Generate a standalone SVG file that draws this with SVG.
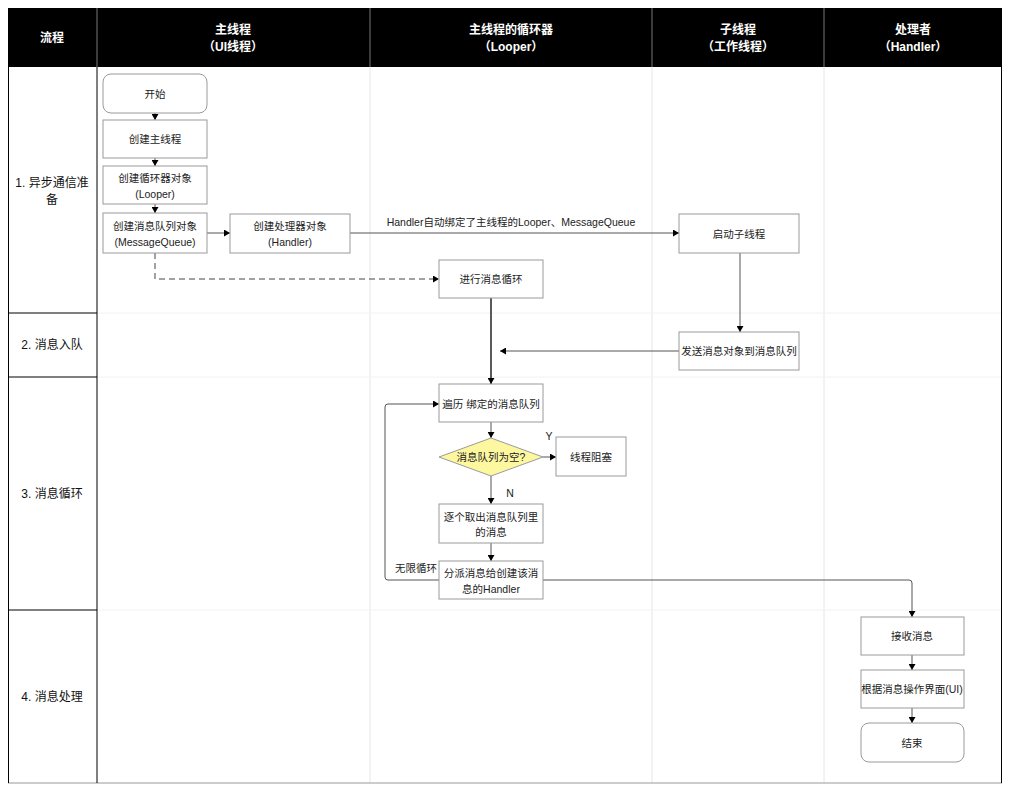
<svg xmlns="http://www.w3.org/2000/svg" width="1019" height="800" viewBox="0 0 1019 800">
<defs>
<style>
text{font-family:"Liberation Sans","Noto Sans CJK SC",sans-serif;font-size:10.5px;fill:#222;text-anchor:middle;dominant-baseline:central}
.hd{fill:#fff;font-weight:bold;font-size:12px}
.lane{font-size:12px;fill:#111}
.box{fill:#fff;stroke:#9a9a9a;stroke-width:1}
.grid{stroke:#e6e6e6;stroke-width:1}
.rowg{stroke:#f2f2f2;stroke-width:1}
.edge{fill:none;stroke:#555;stroke-width:1}
</style>
<marker id="ah" markerWidth="7" markerHeight="7" refX="6" refY="3.5" orient="auto" markerUnits="userSpaceOnUse">
<path d="M0,0 L6,3.5 L0,7 Z" fill="#000"/>
</marker>
</defs>
<rect x="0" y="0" width="1019" height="800" fill="#fff"/>
<g id="table">
<line class="grid" x1="370" y1="67" x2="370" y2="783"/>
<line class="grid" x1="652" y1="67" x2="652" y2="783"/>
<line class="grid" x1="824" y1="67" x2="824" y2="783"/>
<line class="rowg" x1="97" y1="313" x2="1002" y2="313"/>
<line class="rowg" x1="97" y1="377" x2="1002" y2="377"/>
<line class="rowg" x1="97" y1="610" x2="1002" y2="610"/>
<line x1="8" y1="783" x2="1002" y2="783" stroke="#999" stroke-width="1"/>
<rect x="8" y="8" width="994" height="59" fill="#000"/>
<line x1="97" y1="8" x2="97" y2="67" stroke="#777"/>
<line x1="370" y1="8" x2="370" y2="67" stroke="#777"/>
<line x1="652" y1="8" x2="652" y2="67" stroke="#777"/>
<line x1="824" y1="8" x2="824" y2="67" stroke="#777"/>
<line x1="8.5" y1="67" x2="8.5" y2="783" stroke="#000"/>
<line x1="97" y1="67" x2="97" y2="783" stroke="#000"/>
<line x1="1001.5" y1="67" x2="1001.5" y2="783" stroke="#000"/>
<line x1="8" y1="313" x2="97" y2="313" stroke="#000"/>
<line x1="8" y1="377" x2="97" y2="377" stroke="#000"/>
<line x1="8" y1="610" x2="97" y2="610" stroke="#000"/>
<text class="hd" x="52" y="38">流程</text>
<text class="hd" x="233" y="30">主线程</text>
<text class="hd" x="233" y="47">（UI线程）</text>
<text class="hd" x="511" y="30">主线程的循环器</text>
<text class="hd" x="511" y="47">（Looper）</text>
<text class="hd" x="738" y="30">子线程</text>
<text class="hd" x="738" y="47">（工作线程）</text>
<text class="hd" x="913" y="30">处理者</text>
<text class="hd" x="913" y="47">（Handler）</text>
<text class="lane" x="52" y="183">1. 异步通信准</text>
<text class="lane" x="52" y="200">备</text>
<text class="lane" x="52" y="345">2. 消息入队</text>
<text class="lane" x="52" y="494">3. 消息循环</text>
<text class="lane" x="52" y="697">4. 消息处理</text>
</g>
<g id="connectors">
<line class="edge" x1="155" y1="113" x2="155" y2="120" marker-end="url(#ah)"/>
<line class="edge" x1="155" y1="158" x2="155" y2="166" marker-end="url(#ah)"/>
<line class="edge" x1="155" y1="204" x2="155" y2="213" marker-end="url(#ah)"/>
<line class="edge" x1="207" y1="233" x2="230" y2="233" marker-end="url(#ah)"/>
<line class="edge" x1="350" y1="233" x2="679" y2="233" marker-end="url(#ah)"/>
<text x="511" y="222">Handler自动绑定了主线程的Looper、MessageQueue</text>
<path d="M155,253 V279 H439" fill="none" stroke="#444" stroke-width="1" stroke-dasharray="6,4" marker-end="url(#ah)"/>
<line class="edge" x1="740" y1="253" x2="740" y2="332" marker-end="url(#ah)"/>
<line class="edge" x1="679" y1="351" x2="500" y2="351" marker-end="url(#ah)"/>
<line x1="491" y1="298" x2="491" y2="384" stroke="#000" stroke-width="1.3" fill="none" marker-end="url(#ah)"/>
<line class="edge" x1="491" y1="422" x2="491" y2="438" marker-end="url(#ah)"/>
<line class="edge" x1="543" y1="457" x2="556" y2="457" marker-end="url(#ah)"/>
<text x="549" y="436">Y</text>
<line class="edge" x1="491" y1="476" x2="491" y2="504" marker-end="url(#ah)"/>
<text x="510" y="493">N</text>
<line class="edge" x1="491" y1="543" x2="491" y2="561" marker-end="url(#ah)"/>
<path class="edge" d="M439,580 H388 Q385,580 385,577 V407 Q385,404 388,404 H439" marker-end="url(#ah)"/>
<text x="416" y="568">无限循环</text>
<path class="edge" d="M543,580 H909 Q912,580 912,583 V617" marker-end="url(#ah)"/>
<line class="edge" x1="912" y1="655" x2="912" y2="670" marker-end="url(#ah)"/>
<line class="edge" x1="912" y1="708" x2="912" y2="723" marker-end="url(#ah)"/>
</g>
<g id="n-start"><rect class="box" x="103" y="74" width="104" height="39" rx="8"/><text x="155" y="94">开始</text></g>
<g id="n-main"><rect class="box" x="103" y="120" width="104" height="38"/><text x="155" y="139">创建主线程</text></g>
<g id="n-looper"><rect class="box" x="103" y="166" width="104" height="38"/><text x="155" y="178">创建循环器对象</text><text x="155" y="194">(Looper)</text></g>
<g id="n-mq"><rect class="box" x="103" y="213" width="104" height="40"/><text x="155" y="226">创建消息队列对象</text><text x="155" y="242">(MessageQueue)</text></g>
<g id="n-handler"><rect class="box" x="230" y="214" width="120" height="39"/><text x="290" y="226">创建处理器对象</text><text x="290" y="242">(Handler)</text></g>
<g id="n-loop"><rect class="box" x="439" y="260" width="104" height="38"/><text x="491" y="279">进行消息循环</text></g>
<g id="n-worker"><rect class="box" x="679" y="214" width="120" height="39"/><text x="739" y="234">启动子线程</text></g>
<g id="n-send"><rect class="box" x="679" y="332" width="120" height="38"/><text x="739" y="351">发送消息对象到消息队列</text></g>
<g id="n-iter"><rect class="box" x="439" y="384" width="104" height="38"/><text x="491" y="404">遍历 绑定的消息队列</text></g>
<g id="n-empty"><path d="M491,438 L543,457 L491,476 L439,457 Z" fill="#fdf7a0" stroke="#9a9a9a"/><text x="491" y="457">消息队列为空?</text></g>
<g id="n-block"><rect class="box" x="556" y="437" width="70" height="39"/><text x="591" y="457">线程阻塞</text></g>
<g id="n-take"><rect class="box" x="439" y="504" width="104" height="39"/><text x="491" y="517">逐个取出消息队列里</text><text x="491" y="532">的消息</text></g>
<g id="n-dispatch"><rect class="box" x="439" y="561" width="104" height="38"/><text x="491" y="573">分派消息给创建该消</text><text x="491" y="589">息的Handler</text></g>
<g id="n-recv"><rect class="box" x="861" y="617" width="103" height="38"/><text x="912" y="636">接收消息</text></g>
<g id="n-ui"><rect class="box" x="861" y="670" width="103" height="38"/><text x="912" y="689">根据消息操作界面(UI)</text></g>
<g id="n-end"><rect class="box" x="861" y="723" width="103" height="39" rx="8"/><text x="912" y="743">结束</text></g>
</svg>
